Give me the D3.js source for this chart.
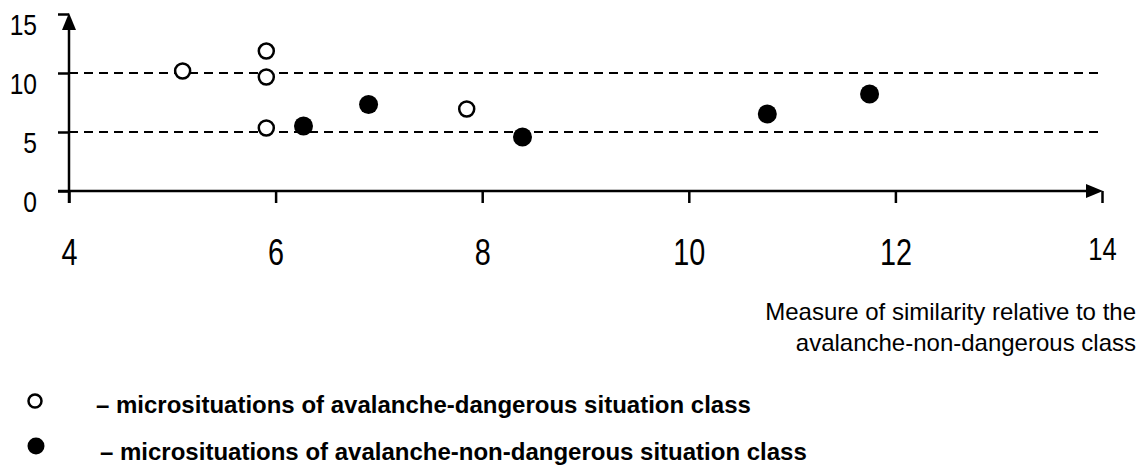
<!DOCTYPE html>
<html>
<head>
    <meta charset="utf-8">
    <title>Similarity scatter</title>
    <script src="https://d3js.org/d3.v7.min.js"></script>
    <style>
        body { margin: 0; background: #fff; }
        text { font-family: "Liberation Sans", Arial, sans-serif; fill: #000; }
        .legend text { font-weight: bold; }
    </style>
</head>
<body>
    <div id="chart"></div>
    <script>
        // chart data
        var xTicks = [4, 6, 8, 10, 12, 14];
        var yTicks = [0, 5, 10, 15];
        var gridLines = [5, 10];

        // avalanche-dangerous (open circles)
        var dangerX = [5.10, 5.91, 5.91, 5.91, 7.85];
        var dangerY = [10.17, 11.86, 9.66, 5.34, 6.95];

        // avalanche-non-dangerous (filled circles)
        var safeX = [6.27, 6.90, 8.39, 10.76, 11.75];
        var safeY = [5.51, 7.33, 4.58, 6.53, 8.22];

        var axisTitle = ["Measure of similarity relative to the", "avalanche-non-dangerous class"];
        var legendLabels = [
            "– microsituations of avalanche-dangerous situation class",
            "– microsituations of avalanche-non-dangerous situation class"
        ];

        var width = 1146, height = 472;

        // squeeze text horizontally (the original uses a narrow font)
        function condense(sel, factor) {
            sel.each(function() {
                var w = this.getComputedTextLength();
                d3.select(this)
                    .attr("textLength", w * factor)
                    .attr("lengthAdjust", "spacingAndGlyphs");
            });
        }

        var svg = d3.select("#chart")
            .append("svg")
            .attr("width", width)
            .attr("height", height);

        var x = d3.scaleLinear().domain([4, 14]).range([69, 1102]);
        var y = d3.scaleLinear().domain([0, 15]).range([191, 14]);

        // dashed grid lines
        svg.append("g")
            .selectAll("line")
            .data(gridLines)
            .enter()
            .append("line")
            .attr("x1", x(4))
            .attr("x2", 1098)
            .attr("y1", function(d) { return y(d); })
            .attr("y2", function(d) { return y(d); })
            .attr("stroke", "#000")
            .attr("stroke-width", 2)
            .attr("stroke-dasharray", "9,6");

        // y axis
        var yAxis = svg.append("g")
            .attr("transform", "translate(" + x(4) + ",0)")
            .call(d3.axisLeft(y).tickValues(yTicks).tickSize(11).tickPadding(21));
        yAxis.select(".domain").remove();
        yAxis.selectAll("line").attr("stroke", "#000").attr("stroke-width", 2.5);
        yAxis.selectAll("text")
            .attr("font-size", 30)
            .attr("font-family", null)
            .attr("dy", null)
            .attr("y", 20)
            .call(condense, 0.82);

        svg.append("line")
            .attr("x1", x(4)).attr("x2", x(4))
            .attr("y1", 203).attr("y2", y(15) + 12)
            .attr("stroke", "#000").attr("stroke-width", 2.5);
        svg.append("path")
            .attr("d", d3.line()([[x(4), y(15) - 1], [x(4) - 7, y(15) + 16], [x(4) + 7, y(15) + 16]]))
            .attr("fill", "#000");

        // x axis
        var xAxis = svg.append("g")
            .attr("transform", "translate(0," + y(0) + ")")
            .call(d3.axisBottom(x).tickValues(xTicks).tickSize(12).tickPadding(36));
        xAxis.select(".domain").remove();
        xAxis.selectAll("line").attr("stroke", "#000").attr("stroke-width", 2.5);
        xAxis.selectAll("text")
            .attr("font-size", function(d) { return d === 14 ? 32 : 36; })
            .attr("font-family", null)
            .attr("dy", function(d) { return d === 14 ? "0.66em" : "0.71em"; })
            .call(condense, 0.8);

        svg.append("line")
            .attr("x1", 58).attr("x2", x(14) - 10)
            .attr("y1", y(0)).attr("y2", y(0))
            .attr("stroke", "#000").attr("stroke-width", 2.5);
        svg.append("path")
            .attr("d", d3.line()([[x(14) + 1, y(0)], [x(14) - 16, y(0) - 7], [x(14) - 16, y(0) + 7]]))
            .attr("fill", "#000");

        // points
        svg.append("g")
            .selectAll("circle")
            .data(d3.range(dangerX.length))
            .enter()
            .append("circle")
            .attr("cx", function(i) { return x(dangerX[i]); })
            .attr("cy", function(i) { return y(dangerY[i]); })
            .attr("r", 7.5)
            .attr("fill", "#fff")
            .attr("stroke", "#000")
            .attr("stroke-width", 2.5);

        svg.append("g")
            .selectAll("circle")
            .data(d3.range(safeX.length))
            .enter()
            .append("circle")
            .attr("cx", function(i) { return x(safeX[i]); })
            .attr("cy", function(i) { return y(safeY[i]); })
            .attr("r", 9.5)
            .attr("fill", "#000");

        // axis title
        svg.append("g")
            .selectAll("text")
            .data(axisTitle)
            .enter()
            .append("text")
            .attr("text-anchor", "end")
            .attr("font-size", 24)
            .attr("x", 1136)
            .attr("y", function(d, i) { return 320 + i * 31; })
            .text(function(d) { return d; });

        // legend
        var legend = svg.append("g").attr("class", "legend");
        legend.append("circle")
            .attr("cx", 35).attr("cy", 401).attr("r", 6.5)
            .attr("fill", "#fff").attr("stroke", "#000").attr("stroke-width", 2.5);
        legend.append("circle")
            .attr("cx", 36).attr("cy", 446).attr("r", 8.5)
            .attr("fill", "#000");
        legend.selectAll("text")
            .data(legendLabels)
            .enter()
            .append("text")
            .attr("x", function(d, i) { return i === 0 ? 96 : 100; })
            .attr("y", function(d, i) { return 413 + i * 47; })
            .attr("font-size", 24)
            .text(function(d) { return d; });
    </script>
</body>
</html>
